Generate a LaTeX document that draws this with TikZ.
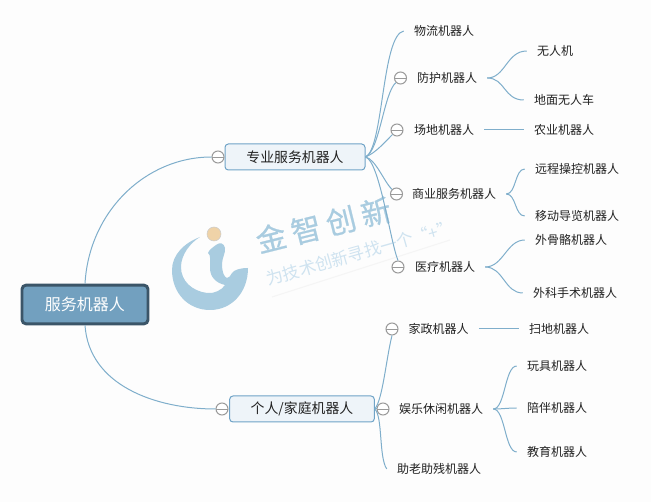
\documentclass[tikz,border=0pt]{standalone}
\usepackage{fontspec}
\setmainfont{Noto Sans CJK SC}
\newfontfamily\wmfont[FakeBold=0.7]{Noto Sans CJK SC}
\definecolor{bgc}{HTML}{FDFDFD}
\definecolor{linkc}{HTML}{7FAECB}
\definecolor{rootf}{HTML}{72A0BF}
\definecolor{rootb}{HTML}{3B5568}
\definecolor{boxf}{HTML}{EEF4F9}
\definecolor{boxb}{HTML}{6FA3C7}
\definecolor{circb}{HTML}{9A9A9A}
\definecolor{txtc}{HTML}{222222}
\definecolor{wm}{HTML}{A9CCE0}
\definecolor{wml}{HTML}{CFE3F0}
\definecolor{globe}{HTML}{EFD3A8}
\definecolor{globel}{HTML}{E3A98C}
\tikzset{
  x=0.75pt,y=-0.75pt,
  rootbox/.style={draw=rootb,line width=2.2pt,fill=rootf,rounded corners=3pt,minimum width=94.5pt,minimum height=29pt,inner sep=0pt,text=white,font=\fontsize{12}{14}\selectfont},
  branchbox/.style={draw=boxb,line width=0.75pt,fill=boxf,rounded corners=2.5pt,minimum height=19.5pt,inner sep=0pt,text=txtc,font=\fontsize{10.4}{12}\selectfont},
  leaf/.style={inner ysep=0pt,inner xsep=7.5pt,text=txtc,font=\fontsize{9}{11}\selectfont},
  minusc/.style={circle,draw=circb,line width=0.75pt,fill=white,minimum size=9pt,inner sep=0pt,
    path picture={\draw[circb,line width=0.6pt] (path picture bounding box.west) -- (path picture bounding box.east);}},
  link/.style={draw=linkc,line width=0.75pt},
}
\begin{document}
\begin{tikzpicture}
\useasboundingbox (0,0) rectangle (651,502);
\fill[bgc] (0,0) rectangle (651,502);
% watermark
\draw[line width=0.8pt,black!4] (272,297) -- (450,240);
\fill[wm] (200,237) .. controls (184,243) and (172,255) .. (172,270)
  .. controls (172,293) and (188,310) .. (210,310)
  .. controls (232,310) and (248,292) .. (248,268)
  .. controls (240,268) and (234,270) .. (232,273)
  .. controls (230,276) and (229,278) .. (227,278)
  .. controls (224,277) and (222,272) .. (222,264)
  .. controls (222,258) and (226,252) .. (225,248)
  .. controls (224,243) and (220,242) .. (216,245)
  .. controls (212,248) and (209,250) .. (208,253)
  .. controls (211,255) and (210,260) .. (210,268)
  .. controls (210,277) and (216,283) .. (225,285)
  .. controls (222,290) and (214,294) .. (207,293)
  .. controls (192,291) and (181,281) .. (181,267)
  .. controls (181,255) and (190,243) .. (200,237) -- cycle;
\node[circle,fill=globe,draw=black!20,line width=0.4pt,minimum size=10.5pt,inner sep=0pt,
  path picture={\draw[globel,line width=0.3pt]
    (209,231.5) -- (219,231.5) (209,234) -- (219,234) (209,236.5) -- (219,236.5)
    (211.5,228) -- (211.5,240) (214,228) -- (214,240) (216.5,228) -- (216.5,240);}] (globeball) at (214,234) {};
\node[rotate=14,text=wm,font=\wmfont\fontsize{22.5}{26}\selectfont] (wmtitle) at (323.5,225) {金\hspace{4.5pt}智\hspace{4.5pt}创\hspace{4.5pt}新};
\node[rotate=16,text=wml,font=\fontsize{12.7}{15}\selectfont] (wmsub) at (340,258.5) {为技术创新寻找一个};
\node[rotate=16,text=wml,font=\fontsize{12.7}{15}\selectfont] (wmplus) at (433,232) {“+”};
% main nodes
\node[rootbox] (root) at (85,304.5) {服务机器人};
\node[branchbox,minimum width=105pt] (zy) at (295,157) {专业服务机器人};
\node[branchbox,minimum width=108.5pt] (gr) at (302,409) {个人/家庭机器人};
\node[minusc] (czy) at (218,157) {};
\node[minusc] (cgr) at (222,409) {};
% level 2
\node[leaf] (wl) at (444,31) {物流机器人};
\node[leaf] (fh) at (447,78) {防护机器人};
\node[leaf] (cd) at (444,130) {场地机器人};
\node[leaf] (sy) at (454,194) {商业服务机器人};
\node[leaf] (yl) at (445,267) {医疗机器人};
\node[leaf] (jz) at (438.5,329) {家政机器人};
\node[leaf] (yx) at (441,409) {娱乐休闲机器人};
\node[leaf] (zl) at (439,469) {助老助残机器人};
\node[minusc] (cfh) at (400.5,78) {};
\node[minusc] (ccd) at (397,130) {};
\node[minusc] (csy) at (396.5,194) {};
\node[minusc] (cyl) at (398,267) {};
\node[minusc] (cjz) at (392,329) {};
\node[minusc] (cyx) at (383,409) {};
% level 3
\node[leaf] (wrj) at (555,51) {无人机};
\node[leaf] (dm) at (564,100) {地面无人车};
\node[leaf] (ny) at (564,130) {农业机器人};
\node[leaf] (yc) at (577,169) {远程操控机器人};
\node[leaf] (yd) at (577,216) {移动导览机器人};
\node[leaf] (wg) at (571,240) {外骨骼机器人};
\node[leaf] (wk) at (575,293) {外科手术机器人};
\node[leaf] (sd) at (559,329) {扫地机器人};
\node[leaf] (wj) at (557,366) {玩具机器人};
\node[leaf] (pb) at (557,408) {陪伴机器人};
\node[leaf] (jy) at (557,452) {教育机器人};
% connectors
\draw[link] (root.north) .. controls +(4,-72) and +(-66,0) .. (czy.west);
\draw[link] (root.south) .. controls +(4,60) and +(-60,0) .. (cgr.west);
\draw[link] (zy.east) .. controls +(18,-8) and +(-22,4) .. (wl.west);
\draw[link] (zy.east) .. controls +(14,-6) and +(-12,10) .. (cfh.south west);
\draw[link] (zy.east) .. controls +(10,-4) and +(-8,8) .. (ccd.south west);
\draw[link] (zy.east) .. controls +(10,2) and +(-8,-8) .. (csy.north west);
\draw[link] (zy.east) .. controls +(14,4) and +(-8,-20) .. (cyl.north);
\draw[link] (gr.east) .. controls +(8,-10) and +(-6,24) .. (cjz.south);
\draw[link] (gr.east) -- (cyx.west);
\draw[link] (gr.east) .. controls +(8,8) and +(-8,-12) .. (zl.west);
\draw[link] (fh.east) .. controls +(18,0) and +(-20,0) .. (wrj.west);
\draw[link] (fh.east) .. controls +(18,0) and +(-20,0) .. (dm.west);
\draw[link] (cd.east) -- (ny.west);
\draw[link] (sy.east) .. controls +(10,0) and +(-10,0) .. (yc.west);
\draw[link] (sy.east) .. controls +(10,0) and +(-10,0) .. (yd.west);
\draw[link] (yl.east) .. controls +(18,0) and +(-18,0) .. (wg.west);
\draw[link] (yl.east) .. controls +(18,0) and +(-18,0) .. (wk.west);
\draw[link] (jz.east) -- (sd.west);
\draw[link] (yx.east) .. controls +(12,0) and +(-12,0) .. (wj.west);
\draw[link] (yx.east) .. controls +(10,0) and +(-10,0) .. (pb.west);
\draw[link] (yx.east) .. controls +(12,0) and +(-12,0) .. (jy.west);
\end{tikzpicture}
\end{document}
